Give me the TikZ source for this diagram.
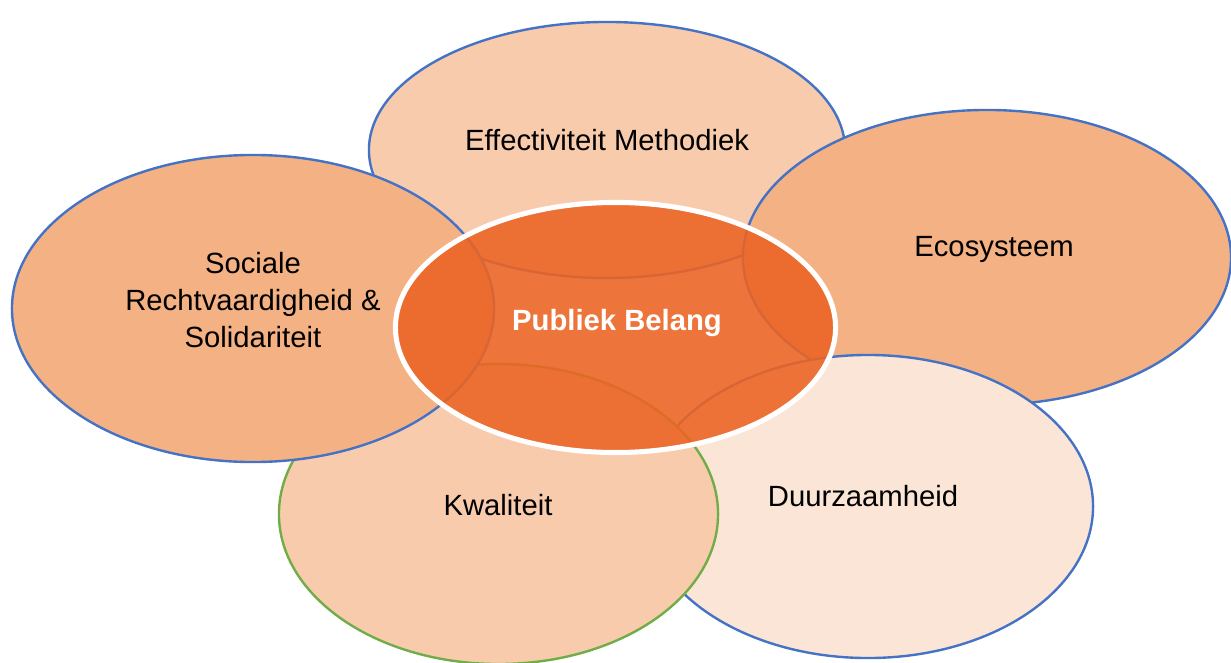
\documentclass[tikz,border=0pt]{standalone}
\usepackage{fontspec}
\setmainfont{Liberation Sans}
\usetikzlibrary{shapes.geometric}

\definecolor{peach}{HTML}{F8CBAD}
\definecolor{apricot}{HTML}{F4B183}
\definecolor{cream}{HTML}{FBE5D6}
\definecolor{rust}{RGB}{235,100,36}
\definecolor{rimblue}{HTML}{4472C4}
\definecolor{rimgreen}{HTML}{70AD47}

\tikzset{
  petal/.style={ellipse, draw=rimblue, line width=1.7pt, inner sep=0pt},
  lbl/.style={font=\fontsize{20.8}{26.3}\selectfont, align=center, inner sep=0pt}
}

\begin{document}
\begin{tikzpicture}[x=0.025cm, y=-0.025cm]
\useasboundingbox (0,0) rectangle (1231,663);
% outer ellipses, back to front
\node[petal, fill=peach,   minimum width=11.9cm,   minimum height=6.4cm]   (eff)  at (607,150)     {};
\node[petal, fill=apricot, minimum width=12.2cm,   minimum height=7.375cm] (eco)  at (987,257.5)   {};
\node[petal, fill=cream,   minimum width=11.25cm,  minimum height=7.575cm] (duur) at (868,506.5)   {};
\node[petal, fill=peach, draw=rimgreen, minimum width=10.975cm, minimum height=7.5cm] (kwal) at (498.5,514) {};
\node[petal, fill=apricot, minimum width=12.05cm,  minimum height=7.675cm] (soc)  at (253,308.5)   {};
% centre, see-through so the rims underneath show
\node[ellipse, draw=white, line width=3.6pt, fill=rust, fill opacity=0.89, draw opacity=1,
      inner sep=0pt, minimum width=11cm, minimum height=6.25cm] (hub) at (615.5,327.5) {};

% labels
\node[lbl] (eff-t)  at (607,140) {Effectiviteit Methodiek};
\node[lbl] (eco-t)  at (994,249) {Ecosysteem};
\node[lbl] (soc-t)  at (253,300) {Sociale\\Rechtvaardigheid \&\\Solidariteit};
\node[lbl] (duur-t) at (863,496) {Duurzaamheid};
\node[lbl] (kwal-t) at (498,505) {Kwaliteit};
\node[lbl, text=white, font=\fontsize{20.8}{26.3}\selectfont\bfseries] (hub-t) at (617,323) {Publiek Belang};
\end{tikzpicture}
\end{document}
